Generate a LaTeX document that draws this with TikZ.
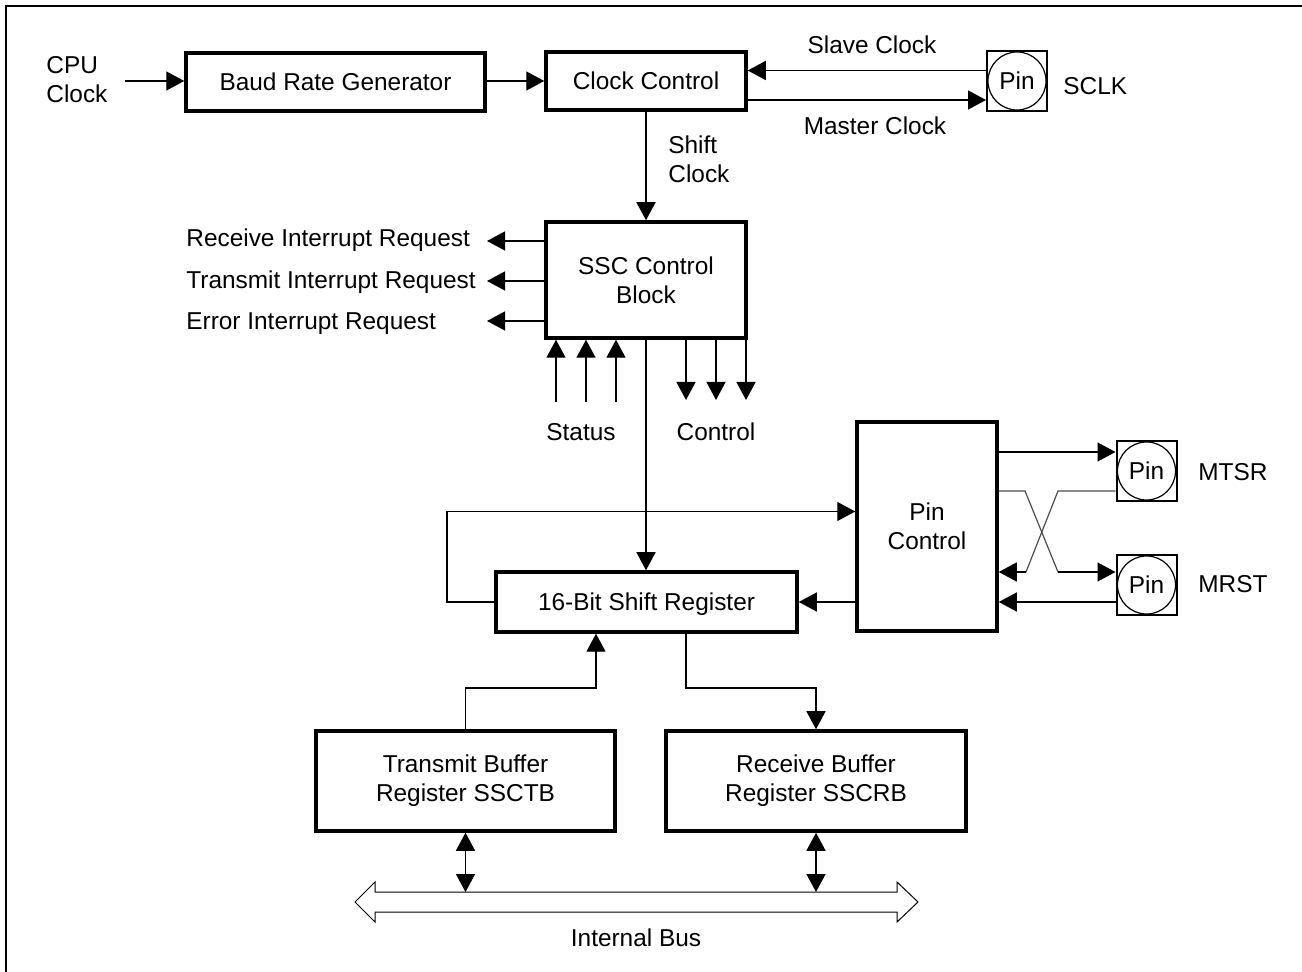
\documentclass[tikz,border=0pt]{standalone}
\usepackage{fontspec}
\setmainfont{Liberation Sans}
\usetikzlibrary{arrows.meta}
\begin{document}
\begin{tikzpicture}[x=0.5pt,y=-0.5pt,
  every node/.style={font=\fontsize{12.2}{14.5}\selectfont},
  box/.style={draw,line width=1.75pt,inner sep=0pt,align=center},
  sbox/.style={box,text height=8.7pt,text depth=0pt},
  ln/.style={line width=0.7pt},
  arr/.style={ln,-{Triangle[length=9pt,width=9.5pt]}},
  darr/.style={ln,{Triangle[length=9pt,width=9.5pt]}-{Triangle[length=9pt,width=9.5pt]}},
  lbl/.style={inner sep=0pt,text height=8.7pt,text depth=0pt},
  mlbl/.style={inner sep=0pt,align=left},
  pinsq/.style={draw,line width=1pt,minimum size=30pt,inner sep=0pt},
  pincirc/.style={draw,circle,line width=0.6pt,minimum size=29pt,inner sep=0pt},
  cross/.style={line width=0.6pt,draw=black!70},
]
\useasboundingbox (0,0) rectangle (1302,972);
% frame
\draw[line width=1pt] (6,972) -- (6,6) -- (1302,6);

% boxes
\node[sbox,minimum width=149.5pt,minimum height=29pt] (baud) at (335.5,82) {Baud Rate Generator};
\node[sbox,minimum width=100pt,minimum height=29pt] (clk) at (646,81) {Clock Control};
\node[box,minimum width=100pt,minimum height=58pt] (ssc) at (646,280) {SSC Control\\Block};
\node[box,minimum width=70pt,minimum height=104.5pt] (pinc) at (927,526.5) {Pin\\Control};
\node[sbox,minimum width=150.5pt,minimum height=30pt] (shreg) at (646.5,602) {16-Bit Shift Register};
\node[box,minimum width=149.5pt,minimum height=50pt] (tb) at (465.5,781) {Transmit Buffer\\Register SSCTB};
\node[box,minimum width=150pt,minimum height=50pt] (rb) at (816,781) {Receive Buffer\\Register SSCRB};

% pins
\node[pinsq] (sclk) at (1017,81) {};
\node[pincirc] (sclkc) at (sclk) {Pin};
\node[pinsq] (mtsr) at (1146.5,471) {};
\node[pincirc] (mtsrc) at (mtsr) {Pin};
\node[pinsq] (mrst) at (1146.5,585) {};
\node[pincirc] (mrstc) at (mrst) {Pin};

% labels
\node[mlbl,anchor=west] (cpu) at (46,80) {CPU\\Clock};
\node[lbl] (slv) at (872,45) {Slave Clock};
\node[lbl] (mst) at (875,126) {Master Clock};
\node[lbl,anchor=west] (sclkl) at (1063,86) {SCLK};
\node[mlbl,anchor=west] (shc) at (668,159.5) {Shift\\Clock};
\node[lbl,anchor=west] (rir) at (186,238) {Receive Interrupt Request};
\node[lbl,anchor=west] (tir) at (186,280) {Transmit Interrupt Request};
\node[lbl,anchor=west] (eir) at (186,321) {Error Interrupt Request};
\node[lbl] (stat) at (581,432) {Status};
\node[lbl] (ctrl) at (716,432) {Control};
\node[lbl,anchor=west] (mtsrl) at (1198,472) {MTSR};
\node[lbl,anchor=west] (mrstl) at (1198,584) {MRST};
\node[lbl] (ibus) at (636,938) {Internal Bus};

% connectors top
\coordinate (cpuin) at (125,81);
\draw[arr] (cpuin) -- (baud.west |- cpuin);
\draw[arr] (baud.east |- clk.west) -- (clk.west);
\draw[arr] (sclk.west |- 0,70.5) -- (clk.east |- 0,70.5);
\draw[arr] (clk.east |- 0,100) -- (sclk.west |- 0,100);
\draw[arr] (clk.south) -- (ssc.north);

% interrupt requests
\foreach \y in {241,281,321}{
  \draw[arr] (ssc.west |- 0,\y) -- (487,\y);
}
% status / control
\foreach \x in {556,586,616}{
  \draw[arr] (\x,402) -- (\x,0 |- ssc.south);
}
\foreach \x in {686,716,746}{
  \draw[arr] (\x,0 |- ssc.south) -- (\x,400);
}
\draw[arr] (ssc.south) -- (ssc.south |- shreg.north);

% loop and pin control
\draw[arr] (shreg.west) -- (447,602) -- (447,511.5) -- (pinc.west |- 0,511.5);
\draw[arr] (pinc.west |- shreg.east) -- (shreg.east);
\draw[arr] (pinc.east |- 0,452) -- (mtsr.west |- 0,452);
\draw[cross] (pinc.east |- 0,491) -- (1025,491) -- (1058,572);
\draw[arr] (1058,572) -- (mrst.west |- 0,572);
\draw[cross] (mtsr.west |- 0,491) -- (1058,491) -- (1026,572);
\draw[arr] (1026,572) -- (pinc.east |- 0,572);
\draw[arr] (mrst.west |- 0,602) -- (pinc.east |- 0,602);

% buffers
\draw[arr] (tb.north) -- (465.5,688) -- (596,688) -- (596,0 |- shreg.south);
\draw[arr] (686,0 |- shreg.south) -- (686,688) -- (rb.north |- 0,688) -- (rb.north);

% bus
\draw[line width=0.5pt,fill=white] (355,902) -- (375,882) -- (375,892) -- (897,892) -- (897,882) -- (918,902) -- (897,922) -- (897,912) -- (375,912) -- (375,922) -- cycle;
\draw[darr] (tb.south) -- (tb.south |- 0,892);
\draw[darr] (rb.south) -- (rb.south |- 0,892);
\end{tikzpicture}
\end{document}
